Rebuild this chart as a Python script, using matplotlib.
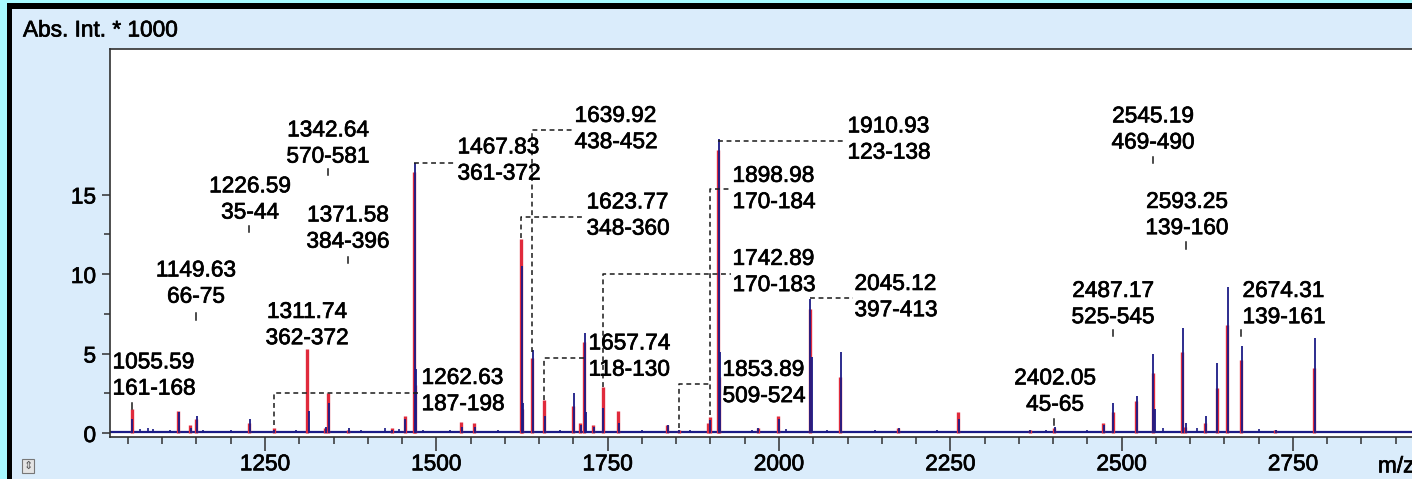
import matplotlib
matplotlib.use("Agg")
import matplotlib.pyplot as plt
import matplotlib.patheffects as pe
from matplotlib.patches import Rectangle
from matplotlib.ticker import MultipleLocator, FixedLocator

plt.rcParams["font.family"] = ["Liberation Sans", "DejaVu Sans"]

# ---------------------------------------------------------------------------
# Spectrum data, intensity in units of 1000
# ---------------------------------------------------------------------------
red_mz = [1055.6, 1123.0, 1140.6, 1149.6, 1226.6, 1262.6, 1311.7, 1337.5,
          1342.6, 1371.6, 1435.0, 1454.0, 1467.8, 1469.3, 1536.0, 1555.0,
          1623.8, 1625.3, 1639.9, 1657.7, 1699.4, 1709.6, 1715.5, 1728.6,
          1742.9, 1765.0, 1836.6, 1853.9, 1896.0, 1899.0, 1910.9, 1912.6,
          1969.0, 1998.6, 2045.1, 2089.0, 2173.7, 2261.2, 2366.0, 2402.0,
          2472.8, 2487.2, 2521.0, 2545.2, 2588.0, 2593.0, 2621.7, 2639.0,
          2653.8, 2674.3, 2723.8, 2780.7]
red_int = [1.5, 1.4, 0.5, 0.9, 0.6, 0.3, 5.3, 0.3,
           2.5, 0.2, 0.3, 1.1, 16.4, 3.0, 0.7, 0.6,
           12.2, 1.5, 4.7, 2.1, 1.7, 0.6, 5.7, 0.5,
           2.9, 1.4, 0.5, 0.2, 0.6, 1.0, 17.8, 3.5,
           0.3, 1.1, 7.8, 3.5, 0.3, 1.3, 0.2, 0.3,
           0.6, 1.3, 2.0, 3.8, 5.1, 0.4, 0.6, 2.8,
           6.8, 4.6, 0.2, 4.1]

blue_mz = [1055.6, 1123.0, 1140.6, 1149.6, 1226.6, 1262.6, 1312.9, 1337.5,
           1342.6, 1371.6, 1435.0, 1454.0, 1467.8, 1469.6, 1536.0, 1555.0,
           1623.8, 1625.8, 1639.9, 1657.7, 1699.4, 1709.6, 1715.5, 1717.4,
           1728.6, 1742.9, 1765.0, 1836.6, 1853.9, 1899.0, 1910.9, 1912.9,
           1969.0, 1998.6, 2045.1, 2047.1, 2089.0, 2173.7, 2261.2, 2366.0,
           2402.0, 2472.8, 2487.2, 2521.0, 2545.2, 2547.2, 2588.0, 2593.0,
           2621.7, 2639.0, 2653.8, 2674.3, 2723.8, 2780.7]
blue_int = [0.9, 1.3, 0.3, 1.1, 0.9, 0.2, 1.4, 0.4,
            1.9, 0.3, 0.2, 0.9, 17.0, 4.0, 0.4, 0.4,
            10.5, 1.9, 5.2, 1.1, 2.5, 0.5, 6.3, 1.3,
            0.4, 1.6, 0.6, 0.5, 0.2, 0.8, 18.5, 5.1,
            0.3, 0.9, 8.4, 4.8, 5.1, 0.3, 0.9, 0.2,
            0.4, 0.5, 1.9, 2.3, 5.0, 1.5, 6.6, 0.6,
            1.1, 4.4, 9.2, 5.5, 0.2, 6.0]

# small baseline bumps
noise_mz = [1040, 1068, 1080, 1087, 1100, 1112, 1160, 1180, 1200, 1240,
            1280, 1295, 1360, 1390, 1410, 1425, 1445, 1480, 1500, 1520,
            1570, 1590, 1610, 1680, 1730, 1780, 1800, 1820, 1870, 1885,
            1940, 1960, 2010, 2025, 2070, 2110, 2140, 2200, 2230, 2290,
            2320, 2350, 2390, 2420, 2450, 2500, 2560, 2610, 2700, 2740,
            2800, 2830, 2860, 2900]
noise_int = [0.1, 0.25, 0.3, 0.25, 0.15, 0.2, 0.2, 0.15, 0.2, 0.15,
             0.15, 0.2, 0.15, 0.2, 0.15, 0.3, 0.25, 0.2, 0.15, 0.2,
             0.15, 0.2, 0.15, 0.2, 0.2, 0.15, 0.2, 0.15, 0.2, 0.15,
             0.15, 0.2, 0.25, 0.15, 0.2, 0.15, 0.2, 0.15, 0.2, 0.15,
             0.1, 0.15, 0.2, 0.15, 0.2, 0.15, 0.3, 0.3, 0.25, 0.15,
             0.15, 0.1, 0.15, 0.1]

# Peak labels: mass / residue range
label_text = ["1055.59\n161-168", "1149.63\n66-75", "1226.59\n35-44",
              "1342.64\n570-581", "1371.58\n384-396", "1311.74\n362-372",
              "1262.63\n187-198", "1467.83\n361-372", "1639.92\n438-452",
              "1623.77\n348-360", "1657.74\n118-130", "1742.89\n170-183",
              "1898.98\n170-184", "1910.93\n123-138", "1853.89\n509-524",
              "2045.12\n397-413", "2402.05\n45-65", "2487.17\n525-545",
              "2545.19\n469-490", "2593.25\n139-160", "2674.31\n139-161"]

# label placement (x, y centre, alignment)
label_pos = [(1027.5, 3.65, "left"), (1149.3, 9.43, "center"),
             (1228.1, 14.72, "center"), (1341.9, 18.24, "center"),
             (1371.1, 12.89, "center"), (1311.3, 6.82, "center"),
             (1478.4, 2.67, "left"), (1530.9, 17.17, "left"),
             (1701.7, 19.15, "left"), (1719.2, 13.71, "left"),
             (1722.1, 4.84, "left"), (1932.2, 10.16, "left"),
             (1932.2, 15.38, "left"), (2100.0, 18.49, "left"),
             (1917.6, 3.18, "left"), (2110.2, 8.58, "left"),
             (2402.8, 2.64, "center"), (2487.4, 8.14, "center"),
             (2545.8, 19.12, "center"), (2595.4, 13.74, "center"),
             (2676.4, 8.14, "left")]

# dashed leader lines from peak top to label
leaders = [
    [(1262.6, 0.5), (1262.6, 2.52), (1473.3, 2.52)],
    [(1467.8, 16.98), (1528.7, 16.98)],
    [(1639.9, 5.09), (1639.9, 19.06), (1699.4, 19.06)],
    [(1623.8, 12.26), (1623.8, 13.58), (1716.9, 13.58)],
    [(1657.7, 2.08), (1657.7, 4.72), (1719.9, 4.72)],
    [(1742.9, 2.89), (1742.9, 10.0), (1930.0, 10.0)],
    [(1899.0, 1.13), (1899.0, 15.35), (1930.0, 15.35)],
    [(1910.9, 18.36), (2097.8, 18.36)],
    [(1853.9, 0.31), (1853.9, 3.08), (1899.0, 3.08)],
    [(2045.1, 8.49), (2108.0, 8.49)],
]

# short marker dash under the centred labels
label_ticks = [(1055.6, 1.51, 1.89), (1149.6, 7.11, 7.55), (1226.6, 12.64, 13.0),
               (1342.6, 16.2, 16.6), (1371.6, 10.69, 11.07), (2402.05, 0.5, 0.88),
               (2487.17, 6.1, 6.48), (2545.19, 16.98, 17.36),
               (2593.25, 11.6, 12.0), (2674.31, 6.1, 6.48)]

x_ticks = [1250, 1500, 1750, 2000, 2250, 2500, 2750]
y_ticks = [0, 5, 10, 15]

# ---------------------------------------------------------------------------
# Figure: screenshot-like frame
# ---------------------------------------------------------------------------
W, H = 1412, 479
FS = 16.3
heavy = [pe.withStroke(linewidth=0.5, foreground="black")]

fig = plt.figure(figsize=(W / 100, H / 100), dpi=100)
fig.patch.set_facecolor("#A8FAFF")
fig.add_artist(Rectangle((7 / W, 0), 1, (H - 3) / H, transform=fig.transFigure,
                         facecolor="black", edgecolor="none", zorder=-10))
fig.add_artist(Rectangle((12 / W, 0), 1, (H - 9) / H, transform=fig.transFigure,
                         facecolor="#DAECFB", edgecolor="none", zorder=-9))

fig.text(23 / W, 1 - 30 / H, "Abs. Int. * 1000", fontsize=FS,
         ha="left", va="center", color="black", path_effects=heavy)

# little spinner icon bottom-left
fig.text(28 / W, 1 - 466 / H, "\u21d5", fontsize=8, ha="center", va="center",
         family="DejaVu Sans", color="#555555",
         bbox=dict(boxstyle="square,pad=0.15", facecolor="#E4E4E4",
                   edgecolor="#777777", linewidth=0.8))

ax = fig.add_axes([110 / W, (H - 437) / H, (1440 - 110) / W, (437 - 49) / H])
ax.set_facecolor("white")
ax.set_zorder(1)

px_per_da = 0.6853
ax.set_xlim(1250 - (265 - 110) / px_per_da, 1250 + (1440 - 265) / px_per_da)
ax.set_ylim(-4 / 15.9, (433 - 49) / 15.9)

red = "#E02A3C"
navy = "#1B1B86"

ax.axhline(0.04, color=navy, lw=1.6, zorder=2)
ax.vlines(noise_mz, 0, noise_int, colors=navy, lw=1.2, zorder=2)
ax.vlines(red_mz, 0, red_int, colors=red, lw=2.4, zorder=3)
ax.vlines([m + 0.9 for m in blue_mz], 0, blue_int, colors=navy, lw=1.3, zorder=4)

dash = (0, (3.2, 2.4))
for path in leaders:
    xs = [p[0] for p in path]
    ys = [p[1] for p in path]
    ax.plot(xs, ys, color="#1a1a1a", lw=1.1, linestyle=dash, zorder=5)

for x, y0, y1 in label_ticks:
    ax.plot([x, x], [y0, y1], color="#1a1a1a", lw=1.1, zorder=5)

for txt, (x, y, ha) in zip(label_text, label_pos):
    ax.text(x, y, txt, fontsize=FS, ha=ha, va="center", linespacing=1.18,
            color="black", zorder=6, path_effects=heavy)

# axes styling
for side in ("top", "left", "bottom"):
    ax.spines[side].set_color("#303030")
    ax.spines[side].set_linewidth(1.2)
ax.spines["right"].set_visible(False)

ax.set_xticks(x_ticks)
ax.xaxis.set_minor_locator(MultipleLocator(50))
ax.set_yticks(y_ticks)
ax.yaxis.set_minor_locator(FixedLocator([2.5, 7.5, 12.5]))
ax.tick_params(axis="x", which="major", length=10, width=1.1, pad=1,
               labelsize=FS, direction="out", color="#303030")
ax.tick_params(axis="x", which="minor", length=5, width=1.1, direction="out",
               color="#303030")
ax.tick_params(axis="y", which="major", length=6, width=1.1, pad=4,
               labelsize=FS, direction="out", color="#303030")
ax.tick_params(axis="y", which="minor", length=4, width=1.1, direction="out",
               color="#303030")
for lbl in ax.get_xticklabels() + ax.get_yticklabels():
    lbl.set_path_effects(heavy)

# axis unit label sitting in line with the tick labels
ax.text(2874, -0.25 - 29 / 15.9, "m/z", fontsize=FS, ha="left", va="center",
        clip_on=False, path_effects=heavy)

fig.savefig("out.png", dpi=100)
